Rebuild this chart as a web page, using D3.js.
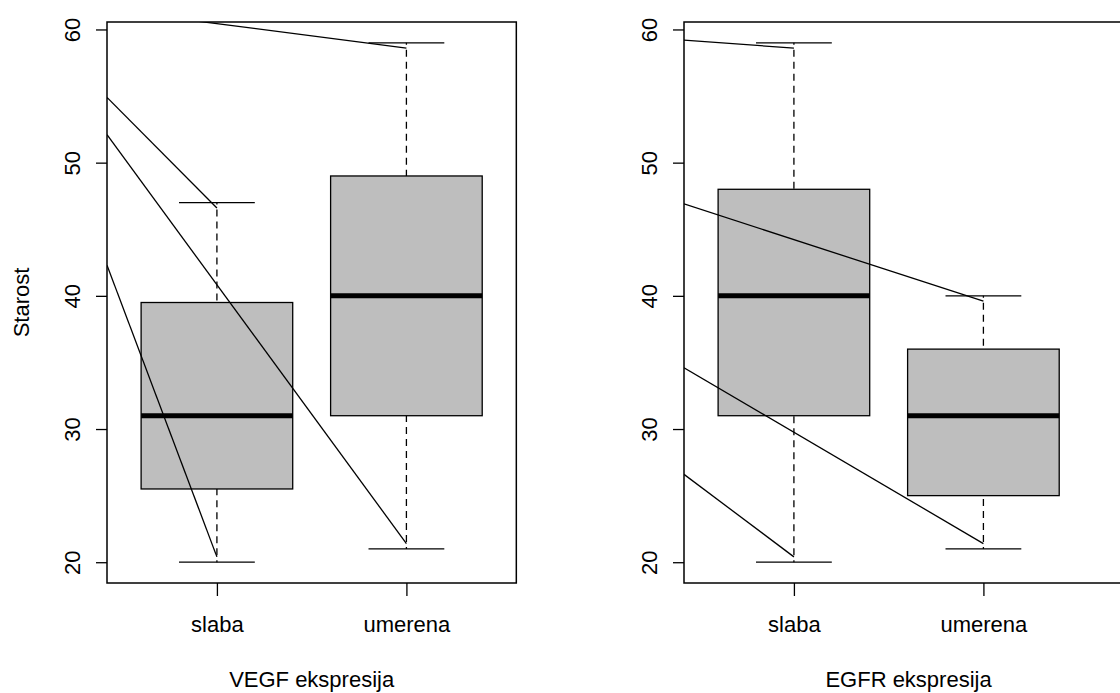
<!DOCTYPE html>
<meta charset="utf-8">
<style>
body {
  margin: 0;
  background: #fff;
}
svg {
  display: block;
  background: #fff;
}
text {
  font-family: "Liberation Sans", Arial, sans-serif;
  font-size: 22px;
  fill: #000;
}
.domain {
  display: none;
}
.tick line {
  stroke: #000;
  stroke-width: 1.3px;
}
.frame {
  fill: none;
  stroke: #000;
  stroke-width: 1.5px;
}
.box {
  fill: #bebebe;
  stroke: #000;
  stroke-width: 1.3px;
}
.median {
  stroke: #000;
  stroke-width: 5px;
}
.whisker {
  stroke: #000;
  stroke-width: 1.3px;
  stroke-dasharray: 7,5;
  stroke-dashoffset: -7;
}
.cap, .seg {
  stroke: #000;
  stroke-width: 1.3px;
}
</style>
<body>
<div id="main"></div>
<script src="https://d3js.org/d3.v7.min.js"></script>
<script>

// groups and five-number summaries (min, q1, median, q3, max)
var groups = ["slaba", "umerena"];
var vegfStats = [[20, 25.5, 31, 39.5, 47], [21, 31, 40, 49, 59]];
var egfrStats = [[20, 31, 40, 48, 59], [21, 25, 31, 36, 40]];

// the straight lines drawn over each panel: [x0, y0, x1, y1] in data units
var vegfLines = [[0.42, 61.5, 2, 58.6], [0.42, 54.9, 1, 46.6], [0.42, 52.1, 2, 21.4], [0.42, 42.3, 1, 20.4]];
var egfrLines = [[0.42, 59.2, 1, 58.6], [0.42, 46.9, 2, 39.6], [0.42, 34.6, 2, 21.4], [0.42, 26.6, 1, 20.4]];

var yTicks = [20, 30, 40, 50, 60];
var titles = ["VEGF ekspresija", "EGFR ekspresija"];

var width = 1120, height = 693;
var plotTop = 22, plotBottom = 583;

var svg = d3.select("#main").append("svg")
    .attr("width", width)
    .attr("height", height);

var y = d3.scaleLinear().domain([18.44, 60.56]).range([plotBottom, plotTop]);

function panel(left, xmax, stats, lines, title, id, showYLabel) {
  var unit = 189.5;
  var x = d3.scaleLinear().domain([0.42, xmax]).range([left, left + (xmax - 0.42) * unit]);
  var right = x(xmax);
  var g = svg.append("g");

  g.append("clipPath").attr("id", id)
    .append("rect")
      .attr("x", left).attr("y", plotTop)
      .attr("width", right - left).attr("height", plotBottom - plotTop);

  var boxes = g.selectAll(".grp")
    .data(stats)
    .enter().append("g");

  // whiskers: from cap towards the box
  boxes.append("line").attr("class", "whisker")
    .attr("x1", (d, i) => x(i + 1)).attr("x2", (d, i) => x(i + 1))
    .attr("y1", d => y(d[4])).attr("y2", d => y(d[3]));
  boxes.append("line").attr("class", "whisker")
    .attr("x1", (d, i) => x(i + 1)).attr("x2", (d, i) => x(i + 1))
    .attr("y1", d => y(d[0])).attr("y2", d => y(d[1]));

  // caps
  [0, 4].forEach(function(k) {
    boxes.append("line").attr("class", "cap")
      .attr("x1", (d, i) => x(i + 0.8)).attr("x2", (d, i) => x(i + 1.2))
      .attr("y1", d => y(d[k])).attr("y2", d => y(d[k]));
  });

  boxes.append("rect").attr("class", "box")
    .attr("x", (d, i) => x(i + 0.6))
    .attr("width", (d, i) => x(i + 1.4) - x(i + 0.6))
    .attr("y", d => y(d[3]))
    .attr("height", d => y(d[1]) - y(d[3]));

  boxes.append("line").attr("class", "median")
    .attr("x1", (d, i) => x(i + 0.6)).attr("x2", (d, i) => x(i + 1.4))
    .attr("y1", d => y(d[2])).attr("y2", d => y(d[2]));

  // overlaid lines, clipped to the plot region
  g.append("g").attr("clip-path", "url(#" + id + ")")
    .selectAll("line")
    .data(lines)
    .enter().append("line").attr("class", "seg")
      .attr("x1", d => x(d[0])).attr("y1", d => y(d[1]))
      .attr("x2", d => x(d[2])).attr("y2", d => y(d[3]));

  g.append("rect").attr("class", "frame")
    .attr("x", left).attr("y", plotTop)
    .attr("width", right - left).attr("height", plotBottom - plotTop);

  // y axis with rotated labels
  var ya = g.append("g")
    .attr("transform", "translate(" + left + ",0)")
    .call(d3.axisLeft(y).tickValues(yTicks).tickSize(11).tickFormat(d3.format("d")));
  ya.selectAll("text")
    .attr("x", 0).attr("y", 0).attr("dy", 0)
    .attr("text-anchor", "middle")
    .attr("transform", "translate(-27,0) rotate(-90)");

  // x axis
  var xa = g.append("g")
    .attr("transform", "translate(0," + plotBottom + ")")
    .call(d3.axisBottom(x).tickValues([1, 2]).tickSize(13).tickFormat((d, i) => groups[i]));
  xa.selectAll("text").attr("y", 49).attr("dy", 0);

  g.append("text")
    .attr("x", (left + right) / 2).attr("y", 687)
    .attr("text-anchor", "middle")
    .text(title);

  if (showYLabel) {
    g.append("text")
      .attr("text-anchor", "middle")
      .attr("transform", "translate(29," + ((plotTop + plotBottom) / 2) + ") rotate(-90)")
      .text("Starost");
  }
}

panel(107, 2.58, vegfStats, vegfLines, titles[0], "clipA", true);
panel(684, 2.79, egfrStats, egfrLines, titles[1], "clipB", false);

</script>
</body>
